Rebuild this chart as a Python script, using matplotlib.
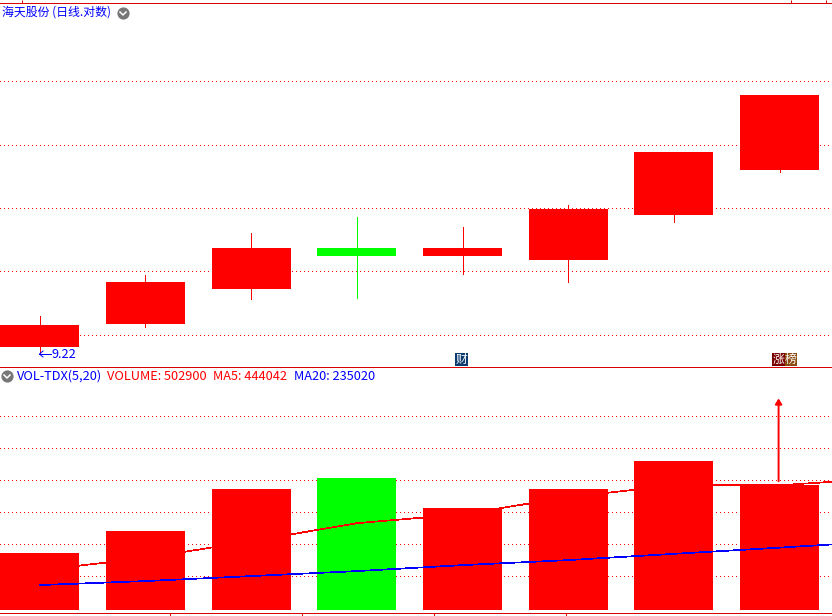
import matplotlib
matplotlib.use('Agg')
import matplotlib.pyplot as plt
from matplotlib.lines import Line2D
from matplotlib.patches import Rectangle
from matplotlib.ticker import NullLocator
import numpy as np

plt.rcParams['font.family'] = ['Noto Sans CJK SC', 'DejaVu Sans']

W, H = 832, 616

# price panel (log scale)
opens = [9.31, 9.67, 10.26, 10.99, 10.84, 10.77, 11.61, 12.52]
closes = [9.66, 10.38, 10.99, 10.84, 10.99, 11.73, 12.90, 14.19]
highs = [9.80, 10.50, 11.27, 11.57, 11.38, 11.81, 12.90, 14.19]
lows = [9.22, 9.62, 10.09, 10.11, 10.52, 10.38, 11.48, 12.48]
candle_colors = ['r', 'r', 'r', 'g', 'r', 'r', 'r', 'r']
price_grid = [9.50, 10.57, 11.75, 13.05, 14.51]
price_top_ticks = [-0.17, 7.11, 7.435]

# volume panel
volumes = [229300, 317800, 486800, 531000, 410400, 486800, 599400, 502900]
ma5 = [160900, 209200, 277600, 350000, 386200, 454600, 502900, 502900, 531000]
ma20 = [100600, 116700, 136800, 156900, 181000, 201200, 226500, 251400, 277600]
vol_grid = [136800, 265500, 394300, 523000, 651700, 780500]
vol_ticks = [1.23, 2.48, 3.73, 4.98]
arrow_from = 519000
arrow_to = 852900

RED = '#ff0000'
GREEN = '#00ff00'
BLUE = '#0000ff'
LINE = '#d80000'


def fx(x):
    return x / W


def fy(y):
    return 1 - y / H


fig = plt.figure(figsize=(W / 100, H / 100), dpi=100, facecolor='white')
ax1 = fig.add_axes([0, fy(367), 1, fy(3) - fy(367)])
ax2 = fig.add_axes([0, fy(613), 1, fy(367) - fy(613)])
ax2.patch.set_visible(False)

x_lim = (-39.75 / 105.7, 792.25 / 105.7)
idx = np.arange(len(opens))
colors = [RED if c == 'r' else GREEN for c in candle_colors]

# candles
ax1.vlines(idx, lows, highs, colors=colors, lw=0.72, antialiased=False, zorder=3)
bottoms = np.minimum(opens, closes)
heights = np.abs(np.array(closes) - np.array(opens))
ax1.bar(idx, heights, 0.7474, bottom=bottoms, color=colors, lw=0, zorder=4)
ax1.set_yscale('log')
ax1.set_ylim(9.0025, 16.544)
ax1.set_xlim(*x_lim)
ax1.yaxis.set_minor_locator(NullLocator())
ax1.set_yticks(price_grid)
ax1.set_yticklabels([])
ax1.xaxis.tick_top()
ax1.set_xticks(price_top_ticks)
ax1.set_xticklabels([])

# volume
ax2.bar(idx, volumes, 0.7474, color=colors, lw=0, zorder=3)
ax2.plot(np.arange(len(ma5)), ma5, color=RED, lw=0.5, antialiased=False, zorder=4)
ax2.plot(np.arange(len(ma20)), ma20, color=BLUE, lw=0.5, antialiased=False, zorder=5)
ax2.set_ylim(-12000, 979600)
ax2.set_xlim(*x_lim)
ax2.set_yticks(vol_grid)
ax2.set_yticklabels([])
ax2.set_xticks(vol_ticks)
ax2.set_xticklabels([])
ax2.annotate('', xy=(6.99, arrow_to), xytext=(6.99, arrow_from),
             arrowprops=dict(arrowstyle='-|>,head_length=0.32,head_width=0.2',
                             color=RED, lw=1.4, shrinkA=0, shrinkB=0), zorder=6)

for ax in (ax1, ax2):
    ax.set_axisbelow(True)
    ax.grid(axis='y', color=RED, lw=0.72, linestyle=(0, (1, 3)), antialiased=False)
    ax.grid(axis='x', visible=False)
    ax.tick_params(axis='y', length=0)
    ax.tick_params(axis='x', length=2.2, width=0.72, color=LINE, direction='out')
    for s in ax.spines.values():
        s.set_visible(False)
for s in (ax1.spines['top'], ax1.spines['bottom'], ax2.spines['bottom']):
    s.set_visible(True)
    s.set_color(LINE)
    s.set_linewidth(0.72)


def chevron(cx, cy):
    fig.add_artist(Line2D([fx(cx)], [fy(cy)], marker='o', ms=8.8, color='#777777', mew=0,
                          transform=fig.transFigure))
    fig.add_artist(Line2D([fx(cx - 3), fx(cx), fx(cx + 3)], [fy(cy - 1), fy(cy + 2), fy(cy - 1)],
                          color='white', lw=1.1, transform=fig.transFigure))


def label(x, y, s, color, size=9.2):
    fig.text(fx(x), fy(y), s, color=color, fontsize=size, ha='left', va='center')


label(2, 12.5, '海天股份 (日线.对数)', BLUE, 8.6)
chevron(123, 13)
chevron(7, 376)
label(17, 376, 'VOL-TDX(5,20)', BLUE)
label(107, 376, 'VOLUME: 502900', RED)
label(213, 376, 'MA5: 444042', RED)
label(294, 376, 'MA20: 235020', BLUE)
label(52, 354, '9.22', BLUE)
fig.add_artist(Line2D([fx(39), fx(51)], [fy(354), fy(354)], color=BLUE, lw=0.72,
                      transform=fig.transFigure))
fig.add_artist(Line2D([fx(43), fx(39.5), fx(43)], [fy(351), fy(354), fy(357)], color=BLUE, lw=0.72,
                      transform=fig.transFigure))


def badge(x0, w, color, ch):
    fig.add_artist(Rectangle((fx(x0), fy(366)), w / W, 13 / H, color=color, lw=0,
                             transform=fig.transFigure))
    fig.text(fx(x0 + w / 2), fy(359.5), ch, color='white', fontsize=8.5, ha='center', va='center')


badge(455, 13, '#0a3a6e', '财')
badge(772, 13, '#7a0000', '涨')
badge(785, 12, '#8a4a10', '榜')

fig.savefig('out.png', dpi=100)
